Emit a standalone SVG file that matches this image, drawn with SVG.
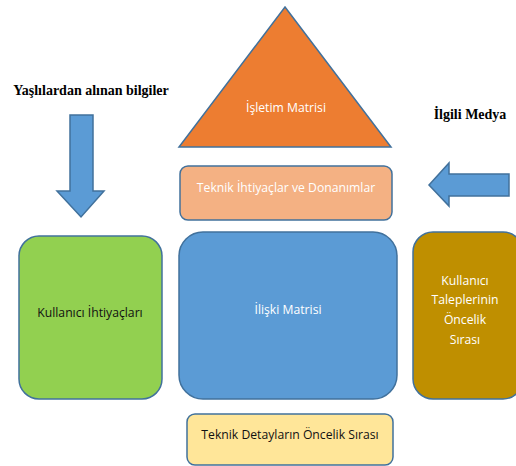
<svg xmlns="http://www.w3.org/2000/svg" width="516" height="466" viewBox="0 0 516 466">
<style>
.shape{stroke:#41719C;stroke-width:1.5}
.t{font-family:"Open Sans","Liberation Sans",sans-serif;font-size:12.2px;text-anchor:middle}
.w{fill:#ffffff}
.k{fill:#111111}
.lbl{font-family:"Liberation Serif",serif;font-weight:bold;font-size:14px;fill:#000000;text-anchor:middle}
</style>
<rect width="516" height="466" fill="#ffffff"/>
<g id="connectors">
<polygon class="shape" fill="#5B9BD5" points="70,115 93,115 93,191 104,191 81,217 57,191 70,191"/>
<polygon class="shape" fill="#5B9BD5" points="509,174 449,174 449,163 429,185 449,206 449,196 509,196"/>
</g>
<g id="label-yaslilar"><text class="lbl" x="91" y="95">Yaşlılardan alınan bilgiler</text></g>
<g id="label-medya"><text class="lbl" x="470" y="119">İlgili Medya</text></g>
<g id="isletim">
<polygon class="shape" fill="#ED7D31" points="285,7 391,147 179,147"/>
<text class="t w" x="286" y="112">İşletim Matrisi</text>
</g>
<g id="teknik-ihtiyaclar">
<rect class="shape" fill="#F4B183" x="180" y="166" width="212" height="54" rx="8"/>
<text class="t w" x="286" y="192">Teknik İhtiyaçlar ve Donanımlar</text>
</g>
<g id="kullanici-ihtiyaclari">
<rect class="shape" fill="#92D050" x="19" y="236" width="143" height="163" rx="20"/>
<text class="t k" x="90" y="317">Kullanıcı İhtiyaçları</text>
</g>
<g id="iliski">
<rect class="shape" fill="#5B9BD5" x="179" y="232" width="218" height="167" rx="24"/>
<text class="t w" x="288" y="314">İlişki Matrisi</text>
</g>
<g id="oncelik">
<rect class="shape" fill="#BF8F00" x="413" y="232" width="110" height="167" rx="20"/>
<text class="t w" x="465" y="285">Kullanıcı</text>
<text class="t w" x="465" y="304">Taleplerinin</text>
<text class="t w" x="465" y="324">Öncelik</text>
<text class="t w" x="465" y="344">Sırası</text>
</g>
<g id="teknik-detaylar">
<rect class="shape" fill="#FFE699" x="187" y="414" width="206" height="51" rx="8"/>
<text class="t k" x="290" y="439">Teknik Detayların Öncelik Sırası</text>
</g>
</svg>
